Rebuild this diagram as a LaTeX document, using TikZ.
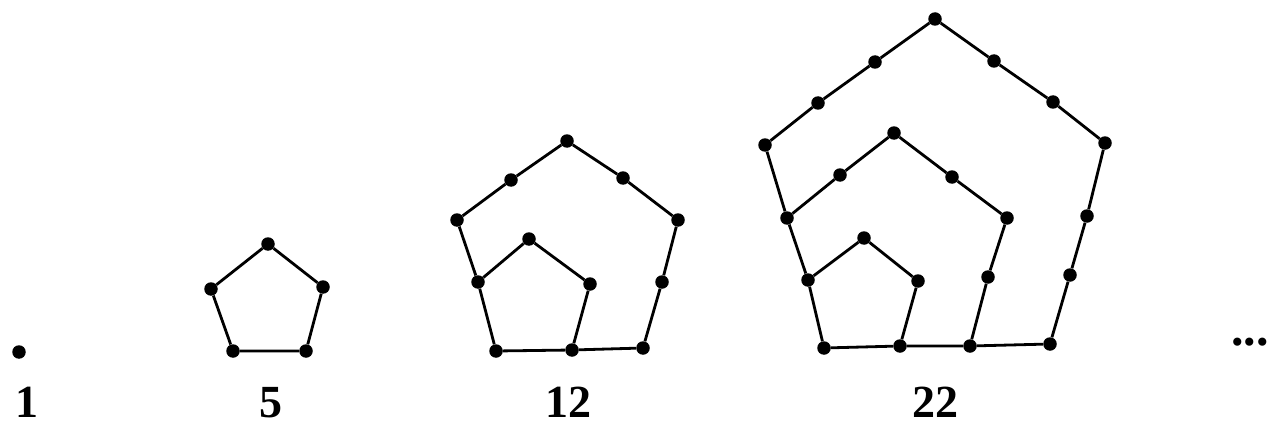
\documentclass[tikz,border=0pt]{standalone}
\usepackage{fontspec}
\setmainfont{Liberation Serif}
\usepackage{tikz}
\usetikzlibrary{positioning}

\begin{document}
\begin{tikzpicture}[
  x=1pt, y=-1pt,
  dot/.style={circle, fill=black, inner sep=0pt, minimum size=13.5pt},
  edge/.style={line width=2.8pt},
  lab/.style={font=\fontsize{46}{52}\selectfont\bfseries, anchor=base, inner sep=0pt}
]
  \useasboundingbox (0,0) rectangle (1270,428);

  % one
  \node[dot] (d1) at (19,352) {};

  % five
  \node[dot] (p5a) at (233,351) {};
  \node[dot] (p5b) at (306,351) {};
  \node[dot] (p5c) at (323,287) {};
  \node[dot] (p5d) at (268,244) {};
  \node[dot] (p5e) at (211,289) {};

  % twelve
  \node[dot] (q-a) at (496,351) {};
  \node[dot] (q-b) at (572,350) {};
  \node[dot] (q-c) at (643,348) {};
  \node[dot] (q-d) at (662,282) {};
  \node[dot] (q-e) at (678,220) {};
  \node[dot] (q-f) at (623,178) {};
  \node[dot] (q-g) at (567,141) {};
  \node[dot] (q-h) at (511,180) {};
  \node[dot] (q-i) at (457,220) {};
  \node[dot] (q-j) at (478,282) {};
  \node[dot] (q-k) at (590,284) {};
  \node[dot] (q-l) at (529,239) {};

  % twenty-two
  \node[dot] (r-a) at (824,348) {};
  \node[dot] (r-b) at (900,346) {};
  \node[dot] (r-c) at (970,346) {};
  \node[dot] (r-d) at (1050,344) {};
  \node[dot] (r-e) at (1070,275) {};
  \node[dot] (r-f) at (1087,216) {};
  \node[dot] (r-g) at (1105,143) {};
  \node[dot] (r-h) at (1053,102) {};
  \node[dot] (r-i) at (994,61) {};
  \node[dot] (r-j) at (935,19) {};
  \node[dot] (r-k) at (875,62) {};
  \node[dot] (r-l) at (818,103) {};
  \node[dot] (r-m) at (765,145) {};
  \node[dot] (r-n) at (787,218) {};
  \node[dot] (r-o) at (808,280) {};
  \node[dot] (r-p) at (840,175) {};
  \node[dot] (r-q) at (894,133) {};
  \node[dot] (r-s) at (952,177) {};
  \node[dot] (r-t) at (1007,218) {};
  \node[dot] (r-u) at (988,277) {};
  \node[dot] (r-v) at (864,238) {};
  \node[dot] (r-w) at (918,281) {};

  \draw[edge] (p5a) -- (p5b) -- (p5c) -- (p5d) -- (p5e) -- (p5a);

  \draw[edge] (q-a) -- (q-b) -- (q-c) -- (q-d) -- (q-e) -- (q-f) -- (q-g)
    -- (q-h) -- (q-i) -- (q-j) -- (q-a);
  \draw[edge] (q-j) -- (q-l) -- (q-k) -- (q-b);

  \draw[edge] (r-a) -- (r-b) -- (r-c) -- (r-d) -- (r-e) -- (r-f) -- (r-g)
    -- (r-h) -- (r-i) -- (r-j) -- (r-k) -- (r-l) -- (r-m) -- (r-n) -- (r-o) -- (r-a);
  \draw[edge] (r-n) -- (r-p) -- (r-q) -- (r-s) -- (r-t) -- (r-u) -- (r-c);
  \draw[edge] (r-o) -- (r-v) -- (r-w) -- (r-b);

  \node[lab] (l1) at (27,417) {1};
  \node[lab] (l5) at (271,417) {5};
  \node[lab] (l12) at (568,417) {12};
  \node[lab] (l22) at (935,417) {22};
  \node[font=\fontsize{50}{56}\selectfont\bfseries, anchor=base west, inner sep=0pt]
    (more) at (1231,345) {...};
\end{tikzpicture}
\end{document}
